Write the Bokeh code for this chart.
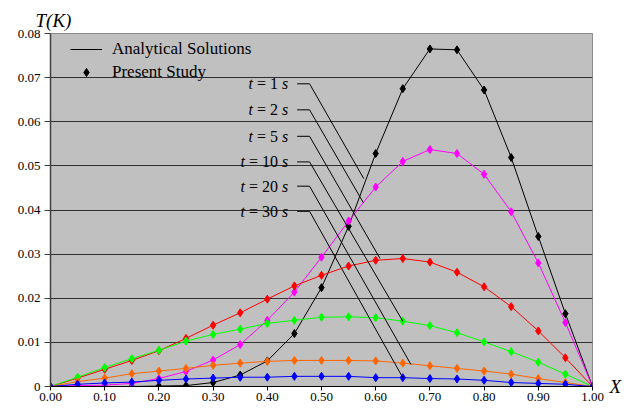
from bokeh.plotting import figure
from bokeh.models import FixedTicker, Legend, LegendItem, Title, LinearAxis, ColumnDataSource
from bokeh.core.properties import value
from bokeh.embed import file_html
from bokeh.resources import INLINE

# ---------------- data ----------------
x_pos = [0.00, 0.05, 0.10, 0.15, 0.20, 0.25, 0.30, 0.35, 0.40, 0.45, 0.50,
         0.55, 0.60, 0.65, 0.70, 0.75, 0.80, 0.85, 0.90, 0.95, 1.00]

temp_t1 = [0, 0.0000, 0.0000, 0.0000, 0.0001, 0.0002, 0.0009, 0.0026, 0.0058, 0.0120, 0.0224,
           0.0363, 0.0528, 0.0675, 0.0765, 0.0763, 0.0672, 0.0519, 0.0340, 0.0165, 0]
temp_t2 = [0, 0.0002, 0.0003, 0.0007, 0.0018, 0.0034, 0.0060, 0.0095, 0.0150, 0.0214, 0.0293,
           0.0375, 0.0452, 0.0510, 0.0537, 0.0528, 0.0481, 0.0396, 0.0280, 0.0145, 0]
temp_t5 = [0, 0.0019, 0.0039, 0.0059, 0.0081, 0.0109, 0.0139, 0.0167, 0.0198, 0.0228, 0.0252,
           0.0273, 0.0286, 0.0290, 0.0282, 0.0259, 0.0226, 0.0181, 0.0126, 0.0065, 0]
temp_t10 = [0, 0.0021, 0.0043, 0.0063, 0.0082, 0.0103, 0.0118, 0.0130, 0.0143, 0.0150, 0.0157,
            0.0158, 0.0156, 0.0148, 0.0138, 0.0122, 0.0101, 0.0079, 0.0055, 0.0028, 0]
temp_t20 = [0, 0.0011, 0.0019, 0.0029, 0.0035, 0.0041, 0.0048, 0.0053, 0.0057, 0.0059, 0.0059,
            0.0059, 0.0058, 0.0053, 0.0047, 0.0041, 0.0035, 0.0028, 0.0018, 0.0009, 0]
temp_t30 = [0, 0.0005, 0.0008, 0.0010, 0.0014, 0.0017, 0.0019, 0.0021, 0.0021, 0.0023, 0.0023,
            0.0023, 0.0020, 0.0020, 0.0018, 0.0017, 0.0014, 0.0009, 0.0007, 0.0005, 0]

series = [temp_t1, temp_t2, temp_t5, temp_t10, temp_t20, temp_t30]
series_colors = ["#000000", "#FF00FF", "#FF0000", "#00FF00", "#FF6600", "#0000FF"]

time_values = ["1", "2", "5", "10", "20", "30"]
label_x = 0.4385
label_y = [0.0686, 0.0627, 0.0567, 0.0509, 0.0454, 0.0397]
leader_start_x = [0.455, 0.478]
leader_end_x = [0.578, 0.577, 0.608, 0.650, 0.665, 0.650]
leader_end_y = [0.0471, 0.0417, 0.0290, 0.0148, 0.0050, 0.0020]

x_ticks = [0.0, 0.1, 0.2, 0.3, 0.4, 0.5, 0.6, 0.7, 0.8, 0.9, 1.0]
x_tick_labels = ["0.00", "0.10", "0.20", "0.30", "0.40", "0.50", "0.60", "0.70", "0.80", "0.90", "1.00"]
y_ticks = [0, 0.01, 0.02, 0.03, 0.04, 0.05, 0.06, 0.07, 0.08]
y_tick_labels = ["0", "0.01", "0.02", "0.03", "0.04", "0.05", "0.06", "0.07", "0.08"]

y_title = "T(K)"
x_title = "X"

FONT = "Liberation Serif"

# ---------------- figure ----------------
p = figure(width=624, height=406, x_range=(0, 1), y_range=(0, 0.08),
           output_backend="svg", toolbar_location=None,
           min_border_left=50, min_border_right=26, min_border_top=33, min_border_bottom=20)
p.background_fill_color = "#C0C0C0"
p.border_fill_color = "white"
p.outline_line_color = "#8a8a8a"
p.outline_line_width = 1

p.xgrid.visible = False
p.ygrid.ticker = FixedTicker(ticks=y_ticks[1:-1])
p.ygrid.grid_line_color = "#303030"
p.ygrid.grid_line_width = 1

p.xaxis.ticker = FixedTicker(ticks=x_ticks)
p.xaxis.major_label_overrides = dict(zip(x_ticks, x_tick_labels))
p.yaxis.ticker = FixedTicker(ticks=y_ticks)
p.yaxis.major_label_overrides = dict(zip(y_ticks, y_tick_labels))
for ax in (p.xaxis, p.yaxis):
    ax.minor_tick_line_color = None
    ax.major_tick_in = 0
    ax.major_label_text_font = FONT
    ax.major_label_text_font_size = "13px"
    ax.major_label_text_color = "#000000"
p.xaxis.major_tick_out = 4
p.xaxis.major_label_standoff = 2
p.xaxis.axis_line_color = "#000000"
p.xaxis.major_tick_line_color = "#000000"
p.yaxis.major_tick_out = 6
p.yaxis.major_label_standoff = 4
p.yaxis.axis_line_color = "#404040"
p.yaxis.axis_line_width = 1.5
p.yaxis.major_tick_line_color = "#404040"

# "X" axis title placed at the right end of the x axis (as a one-tick right axis)
x_title_axis = LinearAxis(ticker=FixedTicker(ticks=[y_ticks[0]]),
                          major_label_overrides={y_ticks[0]: x_title},
                          axis_line_color=None, major_tick_line_color=None,
                          minor_tick_line_color=None, major_tick_in=0, major_tick_out=0,
                          major_label_standoff=17,
                          major_label_text_font=FONT, major_label_text_font_style="italic",
                          major_label_text_font_size="19px", major_label_text_color="#000000")
p.add_layout(x_title_axis, "right")

# "T(K)" title above the y axis
p.add_layout(Title(text=y_title, align="left", offset=-15, standoff=6,
                   text_font=FONT, text_font_style="italic", text_font_size="19px",
                   text_color="#000000"), "above")

# ---------------- series ----------------
line_renderers = []
marker_renderers = []
for vals, col in zip(series, series_colors):
    src = ColumnDataSource(dict(x=x_pos, y=vals))
    lr = p.line("x", "y", source=src, line_color=col, line_width=1)
    mr = p.scatter("x", "y", source=src, marker="diamond", size=8,
                   fill_color=col, line_color=col, line_width=1)
    line_renderers.append(lr)
    marker_renderers.append(mr)

# ---------------- leader lines and labels ----------------
xs = [[leader_start_x[0], leader_start_x[1], ex] for ex in leader_end_x]
ys = [[ly, ly, ey] for ly, ey in zip(label_y, leader_end_y)]
p.multi_line(xs, ys, line_color="#000000", line_width=1)

n = len(time_values)
p.text(x=[label_x] * n, y=label_y, text=["s"] * n,
       text_font=value(FONT), text_font_style="italic", text_font_size="16px",
       text_align="right", text_baseline="middle", text_color="#000000")
p.text(x=[label_x] * n, y=label_y, text=["= " + t for t in time_values],
       x_offset=[-10.2] * n,
       text_font=value(FONT), text_font_style="normal", text_font_size="16px",
       text_align="right", text_baseline="middle", text_color="#000000")
p.text(x=[label_x] * n, y=label_y, text=["t"] * n,
       x_offset=[-(27.2 + 8 * len(t)) for t in time_values],
       text_font=value(FONT), text_font_style="italic", text_font_size="16px",
       text_align="right", text_baseline="middle", text_color="#000000")

# ---------------- legend ----------------
legend = Legend(items=[LegendItem(label="Analytical Solutions", renderers=[line_renderers[0]]),
                       LegendItem(label="Present Study", renderers=[marker_renderers[0]])],
                location=(20, 304), background_fill_alpha=0, border_line_color=None,
                label_text_font=FONT, label_text_font_size="17px", label_text_color="#000000",
                glyph_width=32, glyph_height=20, label_height=20, spacing=3,
                padding=5, margin=0, label_standoff=10)
p.add_layout(legend)

open("out.html", "w").write(file_html(p, INLINE))
